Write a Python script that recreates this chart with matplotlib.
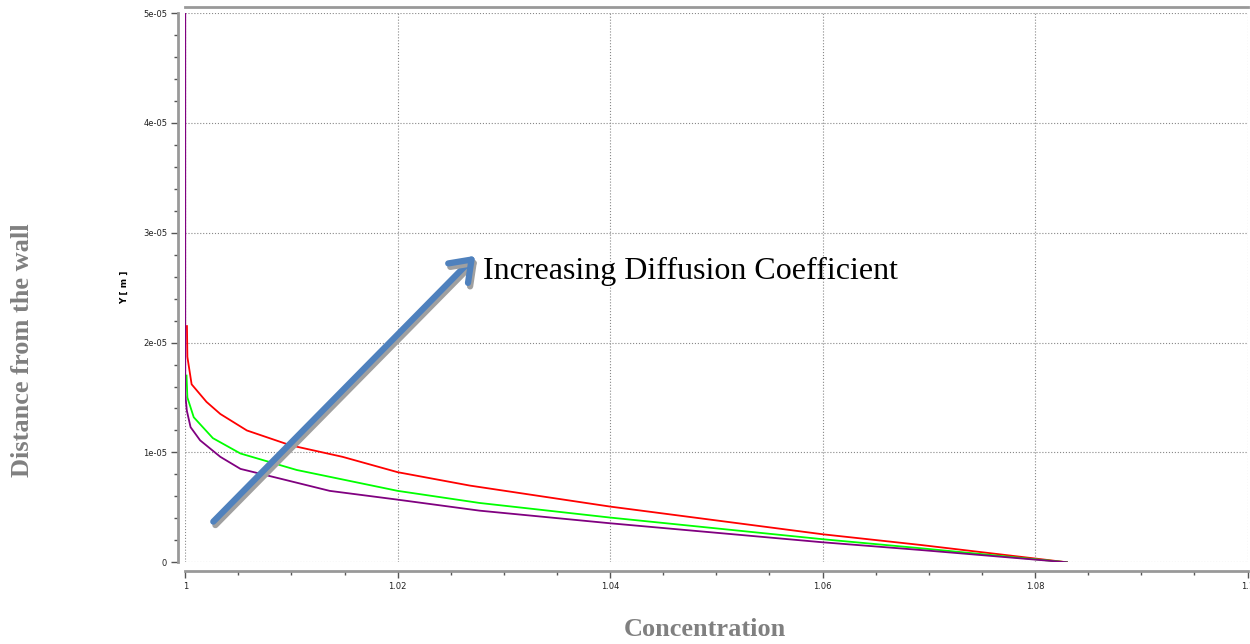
import matplotlib
matplotlib.use('Agg')
import matplotlib.pyplot as plt
import matplotlib.patheffects as pe
from matplotlib.ticker import MultipleLocator

# Concentration profiles near the wall (y in m)
conc_red = [1.00016, 1.0002, 1.0006, 1.002, 1.0033, 1.0058, 1.0099, 1.0148,
            1.02, 1.0268, 1.04, 1.06, 1.0692, 1.083]
y_red = [21.5e-6, 18.7e-6, 16.2e-6, 14.6e-6, 13.5e-6, 12.0e-6, 10.65e-6, 9.6e-6,
         8.2e-6, 6.98e-6, 5.07e-6, 2.55e-6, 1.58e-6, 0.0]

conc_green = [1.00012, 1.0002, 1.0008, 1.0026, 1.0052, 1.0105, 1.02, 1.0277,
              1.04, 1.06, 1.0692, 1.083]
y_green = [17.0e-6, 15.0e-6, 13.2e-6, 11.3e-6, 9.9e-6, 8.4e-6, 6.5e-6, 5.4e-6,
           4.07e-6, 2.1e-6, 1.28e-6, 0.0]

conc_purple = [1.0, 1.0, 1.00015, 1.0005, 1.0014, 1.0033, 1.0052, 1.009, 1.0136, 1.02,
               1.0277, 1.04, 1.06, 1.0692, 1.083]
y_purple = [50e-6, 15.3e-6, 13.8e-6, 12.3e-6, 11.1e-6, 9.6e-6, 8.5e-6, 7.6e-6, 6.5e-6, 5.7e-6,
            4.7e-6, 3.55e-6, 1.82e-6, 1.12e-6, 0.0]

x_ticks = [1.0, 1.02, 1.04, 1.06, 1.08, 1.1]
x_ticklabels = ['1', '1.02', '1.04', '1.06', '1.08', '1.1']
y_ticks = [0, 1e-5, 2e-5, 3e-5, 4e-5, 5e-5]
y_ticklabels = ['0', '1e-05', '2e-05', '3e-05', '4e-05', '5e-05']

# arrow "increasing diffusion coefficient" (data coords)
arrow_start = (1.00264, 3.7e-6)
arrow_end = (1.0273, 27.9e-6)

fig = plt.figure(figsize=(12.5, 6.44), dpi=100)
ax = fig.add_axes([0.1482, 0.1269, 0.8498, 0.8529])

ax.plot(conc_red, y_red, color='#ff0000', lw=1.3)
ax.plot(conc_green, y_green, color='#00ff00', lw=1.3)
ax.plot(conc_purple, y_purple, color='#800080', lw=1.3)

ax.set_xlim(1.0, 1.1)
ax.set_ylim(0, 5e-5)
ax.set_xticks(x_ticks)
ax.set_xticklabels(x_ticklabels)
ax.set_yticks(y_ticks)
ax.set_yticklabels(y_ticklabels)
ax.xaxis.set_minor_locator(MultipleLocator(0.005))
ax.yaxis.set_minor_locator(MultipleLocator(2e-6))

ax.grid(True, which='major', linestyle=':', color='#888888', lw=0.8)
ax.tick_params(which='major', direction='out', length=5, width=1, color='#555555',
               labelsize=6, labelcolor='#222222', pad=3)
ax.tick_params(which='minor', direction='out', length=3, width=1, color='#555555')

for side in ['left', 'bottom', 'top']:
    ax.spines[side].set_color('#999999')
    ax.spines[side].set_linewidth(2)
ax.spines['left'].set_position(('outward', 5))
ax.spines['bottom'].set_position(('outward', 6))
ax.spines['top'].set_position(('outward', 4))
ax.spines['right'].set_visible(False)
ax.tick_params(top=False, which='both')

ax.set_ylabel('Y [ m ]', fontsize=6.5, fontweight='bold', labelpad=10)

# annotation arrow with a gray shadow
ax.annotate('', xy=arrow_end, xytext=arrow_start,
            arrowprops=dict(arrowstyle='->, head_length=0.55, head_width=0.4',
                            mutation_scale=25, color='#4f81bd', lw=4.5, shrinkA=0, shrinkB=0,
                            path_effects=[pe.SimpleLineShadow(offset=(1.5, -2.5), shadow_color='#a0a0a0', alpha=1),
                                          pe.Normal()]))
ax.text(1.0280, 26.5e-6, 'Increasing Diffusion Coefficient', fontsize=23,
        family='Liberation Serif', color='black', va='center', ha='left')

fig.text(0.018, 0.457, 'Distance from the wall', rotation=90, fontsize=19,
         family='Liberation Serif', fontweight='bold', color='#808080', ha='center', va='center')
fig.text(0.564, 0.022, 'Concentration', fontsize=19,
         family='Liberation Serif', fontweight='bold', color='#808080', ha='center', va='center')

fig.savefig('out.png', dpi=100)
